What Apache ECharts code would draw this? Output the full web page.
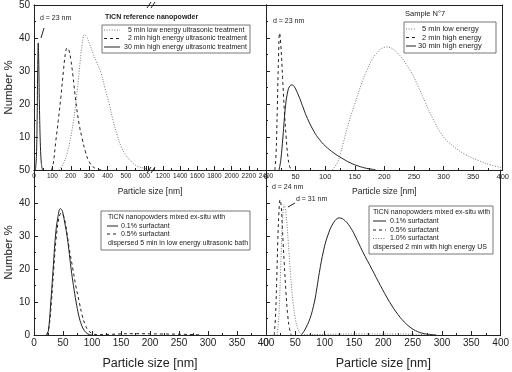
<!DOCTYPE html>
<html>
<head>
<meta charset="utf-8">
<script src="https://cdn.jsdelivr.net/npm/echarts@6/dist/echarts.min.js"></script>
<style>
  html, body { margin: 0; background: #fff; }
  #chart { width: 512px; height: 372px; }
</style>
</head>
<body>
<div id="chart"></div>
<script>
"use strict"

const FONT = "'Liberation Sans', Arial, sans-serif"
const INK = "#222"
const GREY = "#777"

// top left: TiCN reference nanopowder  [nm, number %]
const tlLow5 = [[136,0],[160,2],[180,5],[200,10],[215,15],[227,20],[237,25],[246,30],[255,35],[263,38.5],[273,41],[285,40.5],[300,38.5],[320,35.5],[340,32.8],[364,29.5],[385,25],[409,20],[430,15],[453,10.5],[475,7],[500,4.5],[530,2.5],[560,1.2],[600,0.5],[620,0.2]]
const tlHigh2 = [[95,0],[105,2],[118,8.5],[132,15],[146,22],[160,30],[170,35],[180,37],[190,36.3],[200,33.5],[212,28.5],[227,21],[245,14],[262,9.5],[280,5.5],[300,2.5],[330,0.6],[370,0]]
const tlHigh30 = [[8,0],[13,4],[17,15],[20,30],[23,38.5],[26,32],[30,18],[35,7],[40,2],[46,0]]

// top right: sample N°7
const trLow5 = [[112,0],[120,2],[126,5],[131,8.5],[140,14.5],[151,20.5],[160,25.5],[170,30],[185,35],[204,37.3],[222,35.5],[244,30],[258,25],[269,20.5],[285,14.5],[300,10],[318,7],[336,4.8],[360,2.8],[380,1.5],[400,0.7]]
const trHigh2 = [[15,0],[17,5],[19,18],[21,33],[23,41.5],[25,38],[28,28],[31,18],[34,10],[37,4],[40,1],[43,0]]
const trHigh30 = [[22,0],[25,3],[28.6,10],[33,19.5],[37,24],[40,25.4],[44,25.8],[48,25.2],[52,23.8],[57,21.7],[63,18.8],[70,15.6],[81,11.7],[90,9.3],[100,7.3],[115,5.1],[128,3.6],[142,2.2],[156,1.2],[170,0.5],[185,0.1]]

// bottom left: 5 min low energy bath
const blSurf01 = [[22,0],[25,1.5],[29,10],[33,20],[37,30],[41,35.5],[45.5,38.3],[49,37.5],[53,34],[57,30],[60,26],[64,20],[68,15],[72.6,10],[77,6],[82,3],[87,1.3],[93,0.3],[100,0]]
const blSurf05 = [[22,0],[26,2.5],[30,10],[34,20],[38,29],[43,35.5],[47,37],[51,36],[55,33],[60,27],[67,20],[72,15],[78,10],[83,6],[88,3.2],[93,1.5],[100,0.5],[110,0.1],[130,0.2],[170,0.4],[220,0.3],[260,0.2],[290,0]]

// bottom right: 2 min high energy US
const brSurf01 = [[60,0],[66,1.5],[75,5],[82.5,10],[87,14.5],[91,19],[98,25.5],[105,30],[115,34],[125,35.5],[135,34.6],[145,32.3],[152,30],[165,25.2],[181,19.8],[195,15],[210,10.2],[225,6.2],[240,3.2],[255,1.3],[270,0.4],[290,0]]
const brSurf05 = [[14,0],[16,5],[18,15],[20,28],[22,37],[24,41],[26,39],[28,32],[31,22],[34,13],[37,6],[40,2],[43,0]]
const brSurf10 = [[19,0],[22,6],[25,20],[28,34],[31,39.5],[34,37],[38,28],[42,18],[46,10],[50,5],[54,2],[58,0.6],[62,0.1],[100,0.2],[160,0.3],[220,0.3],[260,0.2],[280,0]]

const DOT = [1, 1.6]
const DASH = [3, 3]

const grids = [
  { left: 34, top: 5, width: 114, height: 165 },      // top left, 0..620
  { left: 145.8, top: 5, width: 120.2, height: 165 }, // top left, 1000..2400
  { left: 266, top: 5, width: 240, height: 165 },     // top right
  { left: 34, top: 170, width: 232, height: 165 },    // bottom left
  { left: 266, top: 170, width: 240, height: 165 },   // bottom right
]

const line = { show: true, onZero: false, lineStyle: { color: INK, width: 1 } }

function xAx(gridIndex, min, max, interval, labelSize, hide) {
  return {
    type: "value", gridIndex, min, max, interval, position: "bottom",
    axisLine: line,
    axisTick: { show: true, inside: true, length: 4, lineStyle: { color: INK } },
    minorTick: { show: true, splitNumber: 2, length: 2, lineStyle: { color: INK } },
    splitLine: { show: false },
    axisLabel: {
      fontSize: labelSize, color: INK, fontFamily: FONT, margin: 3,
      formatter: (v) => (hide && hide(v) ? "" : String(v)),
    },
  }
}
function xTop(gridIndex, min, max) {
  return {
    type: "value", gridIndex, min, max, position: "top",
    axisLine: line, axisTick: { show: false }, axisLabel: { show: false }, splitLine: { show: false },
  }
}
function yAx(gridIndex, position, labels, hideZero) {
  return {
    type: "value", gridIndex, position, min: 0, max: 50, interval: 10,
    axisLine: line,
    axisTick: { show: position === "left", inside: true, length: 4, lineStyle: { color: INK } },
    minorTick: { show: position === "left", splitNumber: 2, length: 2, lineStyle: { color: INK } },
    splitLine: { show: false },
    axisLabel: {
      show: labels, fontSize: 10, color: INK, fontFamily: FONT, margin: 4,
      formatter: (v) => (hideZero && v === 0 ? "" : String(v)),
    },
    name: labels ? "Number %" : "",
    nameLocation: "middle", nameGap: 16,
    nameTextStyle: { fontSize: 11.5, color: INK, fontFamily: FONT },
  }
}

const xAxis = [
  xAx(0, 0, 620, 100, 6.5, (v) => v % 100 !== 0), xTop(0, 0, 620),
  xAx(1, 1000, 2400, 200, 6.5, (v) => v < 1100), xTop(1, 1000, 2400),
  xAx(2, 0, 400, 50, 7.5), xTop(2, 0, 400),
  xAx(3, 0, 400, 50, 10), xTop(3, 0, 400),
  xAx(4, 0, 400, 50, 10), xTop(4, 0, 400),
]
;[4, 6, 8].forEach((i) => {
  const big = i !== 4
  Object.assign(xAxis[i], {
    name: "Particle size [nm]",
    nameLocation: "middle", nameGap: big ? 22 : 17,
    nameTextStyle: { fontSize: big ? 12.5 : 8.5, color: INK, fontFamily: FONT },
  })
})

const yAxis = [
  yAx(0, "left", true, true),
  yAx(1, "right", false),
  yAx(2, "left", false), yAx(2, "right", false),
  yAx(3, "left", true, false), yAx(3, "right", false),
  yAx(4, "left", false), yAx(4, "right", false),
]

function curve(data, x, y, dash, color) {
  return {
    type: "line", data, xAxisIndex: x, yAxisIndex: y,
    showSymbol: false, smooth: 0.4, silent: true,
    lineStyle: { color: color || INK, width: 1, type: dash || "solid" },
  }
}

const series = [
  curve(tlLow5, 0, 0, DOT, GREY), curve(tlHigh2, 0, 0, DASH), curve(tlHigh30, 0, 0),
  curve(trLow5, 4, 2, DOT, GREY), curve(trHigh2, 4, 2, DASH), curve(trHigh30, 4, 2),
  curve(blSurf01, 6, 4), curve(blSurf05, 6, 4, DASH),
  curve(brSurf01, 8, 6), curve(brSurf05, 8, 6, DASH), curve(brSurf10, 8, 6, DOT, GREY),
]

// legends and notes
const txt = (x, y, s, size, extra) => ({
  type: "text", x, y,
  style: Object.assign({ text: s, fill: INK, fontSize: size || 7, fontFamily: FONT, verticalAlign: "middle" }, extra || {}),
  silent: true,
})
const seg = (x1, y1, x2, y2, dash, color) => ({
  type: "line", shape: { x1, y1, x2, y2 },
  style: { stroke: color || INK, lineWidth: 1, lineDash: dash || null },
  silent: true,
})
const box = (x, y, w, h) => ({
  type: "rect", shape: { x, y, width: w, height: h },
  style: { fill: "#fff", stroke: "#555", lineWidth: 0.8 }, silent: true,
})

const graphic = [
  // top left
  txt(40, 18, "d = 23 nm"),
  seg(44, 28, 41, 38),
  txt(105, 17, "TiCN reference nanopowder", 7, { fontWeight: "bold" }),
  box(102, 25, 148, 28),
  seg(104, 30, 120, 30, DOT, GREY), txt(128, 30, "5 min low energy ultrasonic treatment"),
  seg(104, 38.5, 120, 38.5, DASH), txt(128, 38.5, "2 min high energy ultrasonic treatment"),
  seg(104, 47, 120, 47), txt(124, 47, "30 min high energy ultrasonic treatment"),
  txt(150, 192, "Particle size [nm]", 8.5, { align: "center" }),
  // axis break marks
  { type: "rect", shape: { x: 148, y: 3, width: 6, height: 4 }, style: { fill: "#fff" }, silent: true },
  { type: "rect", shape: { x: 148, y: 168, width: 6, height: 4 }, style: { fill: "#fff" }, silent: true },
  seg(147, 8, 151, 2), seg(151, 8, 155, 2),
  seg(147, 173, 151, 167), seg(151, 173, 155, 167),
  // top right
  txt(273, 21, "d = 23 nm"),
  txt(405, 14, "Sample N°7", 7.5),
  box(404, 22, 92, 31),
  seg(406, 29, 416, 29, DOT, GREY), txt(422, 29, "5 min low energy", 7.5),
  seg(406, 37.5, 416, 37.5, DASH), txt(422, 37.5, "2 min high energy", 7.5),
  seg(406, 46, 416, 46), txt(418, 46, "30 min high energy", 7.5),
  // bottom left
  box(101, 211, 149, 39),
  txt(108, 217, "TiCN nanopowders mixed ex-situ with"),
  seg(107, 226, 118, 226), txt(121, 226, "0.1% surfactant"),
  seg(107, 234, 118, 234, DASH), txt(121, 234, "0.5% surfactant"),
  txt(108, 243, "dispersed 5 min in low energy ultrasonic bath"),
  // bottom right
  txt(272, 187, "d = 24 nm"),
  txt(296, 199, "d = 31 nm"),
  seg(288, 207, 295, 203),
  box(369, 206, 124, 48),
  txt(373, 212, "TiCN nanopowders mixed ex-situ with"),
  seg(373, 221, 386, 221), txt(390, 221, "0.1% surfactant"),
  seg(373, 230, 386, 230, DASH), txt(390, 230, "0.5% surfactant"),
  seg(373, 238.5, 386, 238.5, DOT, GREY), txt(390, 238.5, "1.0% surfactant"),
  txt(373, 247, "dispersed 2 min with high energy US"),
]

const chart = echarts.init(document.getElementById("chart"), null, { renderer: "canvas" })
chart.setOption({
  animation: false,
  backgroundColor: "#fff",
  grid: grids,
  xAxis,
  yAxis,
  series,
  graphic,
})
</script>
</body>
</html>
